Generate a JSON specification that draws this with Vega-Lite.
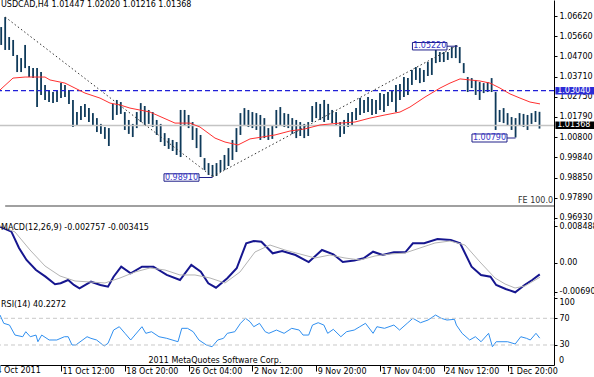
{
"$schema":"https://vega.github.io/schema/vega-lite/v6.json",
"width":554,"height":365,
"autosize":{"type":"none"},
"padding":{"left":0,"top":0,"right":40,"bottom":12},
"background":"white",
"config":{"view":{"stroke":null},"font":"DejaVu Sans",
 "axis":{"labelFont":"DejaVu Sans","labelFontSize":8,"labelColor":"#000","domainColor":"#000","tickColor":"#000","grid":false,"labelOverlap":false,"labelBound":false,"tickSize":3,"labelPadding":2,"domainWidth":1,"tickWidth":1},
 "text":{"font":"DejaVu Sans","fontSize":8}},
"datasets":{
"bars":[{"t":1,"h":1.0609,"l":1.0523},{"t":2,"h":1.0657,"l":1.0499},{"t":3,"h":1.0561,"l":1.0499},{"t":4,"h":1.0547,"l":1.047},{"t":5,"h":1.0475,"l":1.0393},{"t":6,"h":1.046,"l":1.0393},{"t":7,"h":1.0523,"l":1.0412},{"t":8,"h":1.0422,"l":1.0369},{"t":9,"h":1.0412,"l":1.0364},{"t":10,"h":1.0412,"l":1.0225},{"t":11,"h":1.0393,"l":1.0283},{"t":12,"h":1.0331,"l":1.0259},{"t":13,"h":1.0307,"l":1.0249},{"t":14,"h":1.0297,"l":1.0244},{"t":15,"h":1.0307,"l":1.0249},{"t":16,"h":1.034,"l":1.0268},{"t":17,"h":1.0331,"l":1.0273},{"t":18,"h":1.0307,"l":1.024},{"t":19,"h":1.0259,"l":1.0129},{"t":20,"h":1.0201,"l":1.0139},{"t":21,"h":1.023,"l":1.0163},{"t":22,"h":1.024,"l":1.0177},{"t":23,"h":1.022,"l":1.0153},{"t":24,"h":1.0196,"l":1.0134},{"t":25,"h":1.0172,"l":1.0105},{"t":26,"h":1.0144,"l":1.0096},{"t":27,"h":1.0129,"l":1.0072},{"t":28,"h":1.0124,"l":1.0038},{"t":29,"h":1.024,"l":1.0163},{"t":30,"h":1.0259,"l":1.0187},{"t":31,"h":1.0249,"l":1.0192},{"t":32,"h":1.0201,"l":1.0115},{"t":33,"h":1.0163,"l":1.0096},{"t":34,"h":1.0144,"l":1.0081},{"t":35,"h":1.0201,"l":1.0124},{"t":36,"h":1.0244,"l":1.0153},{"t":37,"h":1.023,"l":1.0139},{"t":38,"h":1.0211,"l":1.0144},{"t":39,"h":1.0201,"l":1.0129},{"t":40,"h":1.0163,"l":1.0091},{"t":41,"h":1.0144,"l":1.0057},{"t":42,"h":1.01,"l":1.0038},{"t":43,"h":1.0076,"l":1.0024},{"t":44,"h":1.0067,"l":1.0014},{"t":45,"h":1.0057,"l":0.9995},{"t":46,"h":1.0211,"l":0.9985},{"t":47,"h":1.0211,"l":1.0134},{"t":48,"h":1.0187,"l":1.0124},{"t":49,"h":1.0153,"l":1.0067},{"t":50,"h":1.0124,"l":1.0028},{"t":51,"h":1.0091,"l":0.9985},{"t":52,"h":0.998,"l":0.9923},{"t":53,"h":0.9956,"l":0.9899},{"t":54,"h":0.9947,"l":0.9891},{"t":55,"h":0.9956,"l":0.9894},{"t":56,"h":0.9971,"l":0.9913},{"t":57,"h":0.9995,"l":0.9923},{"t":58,"h":1.0028,"l":0.9942},{"t":59,"h":1.0067,"l":0.9971},{"t":60,"h":1.0124,"l":1.0009},{"t":61,"h":1.0196,"l":1.0091},{"t":62,"h":1.022,"l":1.0139},{"t":63,"h":1.0211,"l":1.0129},{"t":64,"h":1.0201,"l":1.0124},{"t":65,"h":1.0196,"l":1.0115},{"t":66,"h":1.0187,"l":1.0067},{"t":67,"h":1.0172,"l":1.0076},{"t":68,"h":1.0124,"l":1.0067},{"t":69,"h":1.0134,"l":1.0072},{"t":70,"h":1.0211,"l":1.0124},{"t":71,"h":1.0225,"l":1.0139},{"t":72,"h":1.0196,"l":1.0129},{"t":73,"h":1.0192,"l":1.0124},{"t":74,"h":1.0172,"l":1.0096},{"t":75,"h":1.0163,"l":1.0076},{"t":76,"h":1.0153,"l":1.0086},{"t":77,"h":1.0144,"l":1.0076},{"t":78,"h":1.0153,"l":1.0086},{"t":79,"h":1.023,"l":1.0153},{"t":80,"h":1.0249,"l":1.0172},{"t":81,"h":1.024,"l":1.0163},{"t":82,"h":1.0259,"l":1.0153},{"t":83,"h":1.024,"l":1.0163},{"t":84,"h":1.0211,"l":1.0148},{"t":85,"h":1.0201,"l":1.0134},{"t":86,"h":1.0153,"l":1.0081},{"t":87,"h":1.0163,"l":1.0096},{"t":88,"h":1.0196,"l":1.0129},{"t":89,"h":1.0201,"l":1.0134},{"t":90,"h":1.022,"l":1.0163},{"t":91,"h":1.0268,"l":1.0187},{"t":92,"h":1.0259,"l":1.0196},{"t":93,"h":1.0273,"l":1.0201},{"t":94,"h":1.0264,"l":1.0187},{"t":95,"h":1.0259,"l":1.0192},{"t":96,"h":1.0292,"l":1.0211},{"t":97,"h":1.0288,"l":1.0201},{"t":98,"h":1.0297,"l":1.023},{"t":99,"h":1.0307,"l":1.0249},{"t":100,"h":1.0331,"l":1.0201},{"t":101,"h":1.0336,"l":1.0259},{"t":102,"h":1.0369,"l":1.0273},{"t":103,"h":1.0364,"l":1.0283},{"t":104,"h":1.0403,"l":1.0331},{"t":105,"h":1.0417,"l":1.0355},{"t":106,"h":1.0412,"l":1.034},{"t":107,"h":1.0403,"l":1.0345},{"t":108,"h":1.0441,"l":1.0374},{"t":109,"h":1.046,"l":1.0379},{"t":110,"h":1.0499,"l":1.0436},{"t":111,"h":1.0489,"l":1.0441},{"t":112,"h":1.0489,"l":1.0441},{"t":113,"h":1.0489,"l":1.0451},{"t":114,"h":1.0513,"l":1.046},{"t":115,"h":1.0522,"l":1.046},{"t":116,"h":1.0513,"l":1.0436},{"t":117,"h":1.0436,"l":1.0388},{"t":118,"h":1.0369,"l":1.0297},{"t":119,"h":1.0364,"l":1.0316},{"t":120,"h":1.0355,"l":1.0283},{"t":121,"h":1.0345,"l":1.0259},{"t":122,"h":1.034,"l":1.0292},{"t":123,"h":1.0345,"l":1.0297},{"t":124,"h":1.0364,"l":1.0297},{"t":125,"h":1.0297,"l":1.0115},{"t":126,"h":1.0211,"l":1.0153},{"t":127,"h":1.022,"l":1.0148},{"t":128,"h":1.0196,"l":1.0134},{"t":129,"h":1.0177,"l":1.0115},{"t":130,"h":1.0172,"l":1.0079},{"t":131,"h":1.0196,"l":1.0139},{"t":132,"h":1.0192,"l":1.0129},{"t":133,"h":1.0187,"l":1.0115},{"t":134,"h":1.0196,"l":1.0144},{"t":135,"h":1.0206,"l":1.0153},{"t":136,"h":1.0202,"l":1.01216}],
"ma":[{"t":0.702,"p":1.0307},{"t":3.96,"p":1.0364},{"t":7,"p":1.0369},{"t":11.99,"p":1.0369},{"t":13.24,"p":1.0355},{"t":17.0,"p":1.034},{"t":19.51,"p":1.0316},{"t":22.02,"p":1.0292},{"t":25.78,"p":1.0268},{"t":28.29,"p":1.0244},{"t":30.8,"p":1.0235},{"t":33.3,"p":1.022},{"t":38.32,"p":1.0201},{"t":44.59,"p":1.0148},{"t":48.35,"p":1.0148},{"t":50.86,"p":1.0129},{"t":54.62,"p":1.0076},{"t":57.13,"p":1.0057},{"t":60.39,"p":1.0043},{"t":63.4,"p":1.0072},{"t":66.41,"p":1.0081},{"t":69.67,"p":1.0091},{"t":73.43,"p":1.011},{"t":77.19,"p":1.012},{"t":80.95,"p":1.0139},{"t":85.97,"p":1.0148},{"t":89.73,"p":1.0153},{"t":93.49,"p":1.0172},{"t":97.25,"p":1.0187},{"t":101.02,"p":1.0201},{"t":103.52,"p":1.0225},{"t":107.29,"p":1.0273},{"t":111.05,"p":1.0316},{"t":113.56,"p":1.034},{"t":116.07,"p":1.036},{"t":118.57,"p":1.0355},{"t":121.08,"p":1.035},{"t":123.59,"p":1.034},{"t":126.09,"p":1.0316},{"t":128.6,"p":1.0288},{"t":131.11,"p":1.0268},{"t":133.62,"p":1.0249},{"t":136.13,"p":1.024}],
"trend":[{"g":"down","t":2,"p":1.0657},{"g":"down","t":54,"p":0.9891},{"g":"up","t":54,"p":0.9891},{"g":"up","t":115.5,"p":1.0522}],
"levels":[{"kind":"line","p":1.0304,"lo":1.02852,"hi":1.03212,"label":"1.03040"},{"kind":"bid","p":1.01368,"lo":1.01196,"hi":1.01556,"label":"1.01368"}],
"fe":[{"t0":2,"t1":139.64,"p":0.975,"tl":139.4,"pl":0.9774,"label":"FE 100.0"}],
"boxes":[{"label":"1.05220","t0":104.14,"t1":112.8,"te":115.5,"tc":108.47,"p0":1.0499,"p1":1.05348,"pc":1.0517},{"label":"0.98910","t0":41.83,"t1":50.61,"te":54,"tc":46.22,"p0":0.9869,"p1":0.99046,"pc":0.98868},{"label":"1.00790","t0":119.07,"t1":127.85,"te":130,"tc":123.46,"p0":1.00572,"p1":1.00956,"pc":1.00764}],
"macd":[{"t":0.702,"v":0.00844},{"t":3.56,"v":0.00727},{"t":5.47,"v":0.00344},{"t":7.35,"v":0.00062},{"t":9.73,"v":-0.00173},{"t":12.11,"v":-0.0033},{"t":14.5,"v":-0.00509},{"t":15.9,"v":-0.00485},{"t":17.8,"v":-0.00408},{"t":19.23,"v":-0.00525},{"t":20.64,"v":-0.00603},{"t":23.52,"v":-0.00448},{"t":25.88,"v":-0.00525},{"t":27.79,"v":-0.00565},{"t":29.19,"v":-0.0033},{"t":31.1,"v":-0.00095},{"t":33.48,"v":-0.0025},{"t":36.31,"v":-0.00095},{"t":39.17,"v":-0.00095},{"t":42.51,"v":-0.0029},{"t":45.84,"v":-0.00408},{"t":48.68,"v":-0.00055},{"t":51.06,"v":-0.00213},{"t":52.94,"v":-0.00485},{"t":54.87,"v":-0.00589},{"t":57.71,"v":-0.00368},{"t":60.06,"v":-0.00133},{"t":62.45,"v":0.00454},{"t":64.35,"v":0.00508},{"t":66.26,"v":0.00492},{"t":69.09,"v":0.00219},{"t":71.47,"v":0.00273},{"t":74.81,"v":0.00179},{"t":78.12,"v":0.00014},{"t":81.46,"v":0.00297},{"t":84.29,"v":0.00196},{"t":86.67,"v":0.00014},{"t":89.53,"v":0.00052},{"t":91.89,"v":0.00102},{"t":94.27,"v":0.00257},{"t":96.65,"v":0.00179},{"t":99.48,"v":0.00243},{"t":102.34,"v":0.00243},{"t":104.25,"v":0.00454},{"t":107.08,"v":0.00454},{"t":110.42,"v":0.00555},{"t":113.76,"v":0.00532},{"t":116.11,"v":0.00454},{"t":118.97,"v":-0.00095},{"t":121.33,"v":-0.0029},{"t":123.71,"v":-0.0033},{"t":125.14,"v":-0.00525},{"t":127.52,"v":-0.00619},{"t":129.91,"v":-0.00697},{"t":132.26,"v":-0.00525},{"t":134.17,"v":-0.00408},{"t":136.07,"v":-0.00276}],
"signal":[{"t":0.702,"v":0.0086},{"t":4.46,"v":0.0072},{"t":8.23,"v":0.00297},{"t":11.99,"v":-0.00079},{"t":15.75,"v":-0.00314},{"t":19.51,"v":-0.00431},{"t":23.27,"v":-0.00455},{"t":27.03,"v":-0.00478},{"t":30.8,"v":-0.00361},{"t":34.56,"v":-0.0022},{"t":38.32,"v":-0.00126},{"t":42.08,"v":-0.00173},{"t":45.84,"v":-0.0029},{"t":49.6,"v":-0.0029},{"t":53.37,"v":-0.00361},{"t":57.13,"v":-0.00478},{"t":60.89,"v":-0.0022},{"t":64.65,"v":0.0025},{"t":68.41,"v":0.00414},{"t":72.17,"v":0.00297},{"t":75.94,"v":0.00202},{"t":79.7,"v":0.00109},{"t":83.46,"v":0.00179},{"t":87.22,"v":0.00109},{"t":90.98,"v":0.00062},{"t":94.75,"v":0.00156},{"t":98.51,"v":0.00202},{"t":102.27,"v":0.00226},{"t":106.03,"v":0.00344},{"t":109.79,"v":0.00461},{"t":113.56,"v":0.00508},{"t":117.32,"v":0.00414},{"t":121.08,"v":0.00015},{"t":124.84,"v":-0.00361},{"t":127.36,"v":-0.00502},{"t":129.87,"v":-0.00596},{"t":132.37,"v":-0.00548},{"t":136.13,"v":-0.00342}],
"rsi":[{"t":0.702,"v":74.9},{"t":1.65,"v":62.5},{"t":3.08,"v":59.9},{"t":4.46,"v":44.9},{"t":6.4,"v":42.4},{"t":7.17,"v":49.9},{"t":8.3,"v":42.4},{"t":9.73,"v":44.9},{"t":10.21,"v":34.9},{"t":11.16,"v":44.9},{"t":13.04,"v":37.5},{"t":14.95,"v":37.5},{"t":16.85,"v":42.4},{"t":17.81,"v":42.4},{"t":18.76,"v":30.0},{"t":19.71,"v":30.0},{"t":22.54,"v":42.4},{"t":23.5,"v":40.0},{"t":24.93,"v":37.5},{"t":26.83,"v":28.5},{"t":27.79,"v":32.5},{"t":29.19,"v":52.4},{"t":30.62,"v":57.4},{"t":32.05,"v":47.5},{"t":33.48,"v":37.5},{"t":36.31,"v":57.4},{"t":37.27,"v":47.5},{"t":38.7,"v":49.9},{"t":40.58,"v":42.4},{"t":42.51,"v":40.0},{"t":45.34,"v":34.9},{"t":46.29,"v":55.0},{"t":47.72,"v":55.0},{"t":49.15,"v":49.9},{"t":50.58,"v":37.5},{"t":52.46,"v":30.0},{"t":53.89,"v":27.4},{"t":55.32,"v":37.5},{"t":56.75,"v":40.0},{"t":57.71,"v":47.5},{"t":59.59,"v":49.9},{"t":61.02,"v":62.5},{"t":62.27,"v":70.0},{"t":63.4,"v":64.9},{"t":64.35,"v":57.4},{"t":65.78,"v":62.5},{"t":67.21,"v":49.9},{"t":68.14,"v":47.5},{"t":70.04,"v":52.4},{"t":71.95,"v":47.5},{"t":73.86,"v":55.0},{"t":75.74,"v":52.4},{"t":76.69,"v":44.9},{"t":78.12,"v":44.9},{"t":79.07,"v":59.9},{"t":80.5,"v":63.4},{"t":81.93,"v":59.9},{"t":82.88,"v":47.5},{"t":84.29,"v":53.5},{"t":86.19,"v":42.4},{"t":87.62,"v":49.9},{"t":89.53,"v":52.4},{"t":90.94,"v":57.4},{"t":92.36,"v":62.5},{"t":94.27,"v":47.5},{"t":95.22,"v":57.4},{"t":97.13,"v":55.0},{"t":99.48,"v":59.9},{"t":100.91,"v":52.4},{"t":102.82,"v":62.5},{"t":104.25,"v":70.0},{"t":106.16,"v":63.4},{"t":108.04,"v":67.4},{"t":109.94,"v":74.9},{"t":111.37,"v":70.0},{"t":112.8,"v":67.4},{"t":114.68,"v":68.5},{"t":115.16,"v":59.9},{"t":116.59,"v":47.5},{"t":118.49,"v":37.5},{"t":119.92,"v":42.4},{"t":121.35,"v":34.9},{"t":123.24,"v":47.5},{"t":124.19,"v":27.4},{"t":125.14,"v":34.9},{"t":128.0,"v":34.9},{"t":129.91,"v":31.5},{"t":131.31,"v":42.4},{"t":132.74,"v":40.0},{"t":133.69,"v":37.5},{"t":135.12,"v":47.5},{"t":136.07,"v":40.2272}],
"rsilevels":[{"v":70},{"v":30}],
"texts":[{"panel":"main","t":0.95,"v":1.0715,"label":"USDCAD,H4  1.01447 1.02020 1.01216 1.01368"},{"panel":"macd","t":0.95,"v":0.00807,"label":"MACD(12,26,9) -0.002757 -0.003415"},{"panel":"rsi","t":0.95,"v":89.9,"label":"RSI(14) 40.2272"}],
"copyright":[{"t":54.62,"v":6.0,"label":"2011 MetaQuotes Software Corp."}],
"edgelabels":[{"t":-0.2,"v":-9.0,"label":"4 Oct 2011"},{"t":140.9,"v":6.0,"label":"0"}]
},
"layer":[
{"layer":[
 {"data":{"name":"bars"},"mark":{"type":"rule","color":"#0f3a5a","strokeWidth":1.8},
  "encoding":{"x":{"field":"t","type":"quantitative","scale":{"domain":[0.702,139.64],"nice":false,"zero":false}},
   "y":{"field":"h","type":"quantitative","scale":{"domain":[0.96828,1.07388],"range":[220,0],"nice":false,"zero":false},
     "axis":{"orient":"right","values":[1.0662,1.0566,1.047,1.0371,1.0275,1.0179,1.008,0.9984,0.9885,0.9789,0.9693],"tickCount":30,"format":".5f","title":null,"labelFlush":false,"labelOverlap":false,"labelBound":false}},
   "y2":{"field":"l"}}},
 {"data":{"name":"levels"},"transform":[{"filter":"datum.kind == 'bid'"}],"mark":{"type":"rule","color":"#c4c4c4","strokeWidth":1.5},
  "encoding":{"y":{"field":"p","type":"quantitative","scale":{"domain":[0.96828,1.07388],"range":[220,0],"nice":false,"zero":false}}}},
 {"data":{"name":"levels"},"transform":[{"filter":"datum.kind == 'line'"}],"mark":{"type":"rule","color":"#2020d8","strokeWidth":1.3,"strokeDash":[5,3]},
  "encoding":{"y":{"field":"p","type":"quantitative","scale":{"domain":[0.96828,1.07388],"range":[220,0],"nice":false,"zero":false}}}},
 {"data":{"name":"ma"},"mark":{"type":"line","color":"#ff3030","strokeWidth":1},
  "encoding":{"x":{"field":"t","type":"quantitative","scale":{"domain":[0.702,139.64],"nice":false,"zero":false}},
   "y":{"field":"p","type":"quantitative","scale":{"domain":[0.96828,1.07388],"range":[220,0],"nice":false,"zero":false}}}},
 {"data":{"name":"trend"},"mark":{"type":"line","color":"#333333","strokeWidth":1,"strokeDash":[1.5,2.5]},
  "encoding":{"x":{"field":"t","type":"quantitative","scale":{"domain":[0.702,139.64],"nice":false,"zero":false}},
   "y":{"field":"p","type":"quantitative","scale":{"domain":[0.96828,1.07388],"range":[220,0],"nice":false,"zero":false}},
   "detail":{"field":"g"}}},
 {"data":{"name":"fe"},"mark":{"type":"rule","color":"#a0a0a0","strokeWidth":2},
  "encoding":{"x":{"field":"t0","type":"quantitative","scale":{"domain":[0.702,139.64],"nice":false,"zero":false}},"x2":{"field":"t1"},
   "y":{"field":"p","type":"quantitative","scale":{"domain":[0.96828,1.07388],"range":[220,0],"nice":false,"zero":false}}}},
 {"data":{"name":"fe"},"mark":{"type":"text","align":"right","baseline":"middle","color":"#333333"},
  "encoding":{"x":{"field":"tl","type":"quantitative","scale":{"domain":[0.702,139.64],"nice":false,"zero":false}},
   "y":{"field":"pl","type":"quantitative","scale":{"domain":[0.96828,1.07388],"range":[220,0],"nice":false,"zero":false}},"text":{"field":"label"}}},
 {"data":{"name":"boxes"},"mark":{"type":"rule","color":"#20208a","strokeWidth":1},
  "encoding":{"x":{"field":"t1","type":"quantitative","scale":{"domain":[0.702,139.64],"nice":false,"zero":false}},"x2":{"field":"te"},
   "y":{"field":"pc","type":"quantitative","scale":{"domain":[0.96828,1.07388],"range":[220,0],"nice":false,"zero":false}}}},
 {"data":{"name":"boxes"},"mark":{"type":"rect","fill":"white","stroke":"#20208a","strokeWidth":1},
  "encoding":{"x":{"field":"t0","type":"quantitative","scale":{"domain":[0.702,139.64],"nice":false,"zero":false}},"x2":{"field":"t1"},
   "y":{"field":"p0","type":"quantitative","scale":{"domain":[0.96828,1.07388],"range":[220,0],"nice":false,"zero":false}},"y2":{"field":"p1"}}},
 {"data":{"name":"boxes"},"mark":{"type":"text","align":"center","baseline":"middle","color":"#3838c8"},
  "encoding":{"x":{"field":"tc","type":"quantitative","scale":{"domain":[0.702,139.64],"nice":false,"zero":false}},
   "y":{"field":"pc","type":"quantitative","scale":{"domain":[0.96828,1.07388],"range":[220,0],"nice":false,"zero":false}},"text":{"field":"label"}}},
 {"data":{"name":"levels"},"mark":{"type":"rect"},
  "encoding":{"x":{"datum":140,"type":"quantitative","scale":{"domain":[0.702,139.64],"nice":false,"zero":false}},"x2":{"datum":150},
   "y":{"field":"lo","type":"quantitative","scale":{"domain":[0.96828,1.07388],"range":[220,0],"nice":false,"zero":false}},"y2":{"field":"hi"},
   "color":{"field":"kind","type":"nominal","scale":{"domain":["line","bid"],"range":["#2b2bd6","#000000"]},"legend":null}}},
 {"data":{"name":"levels"},"mark":{"type":"text","align":"left","baseline":"middle","color":"white"},
  "encoding":{"x":{"datum":140.45,"type":"quantitative","scale":{"domain":[0.702,139.64],"nice":false,"zero":false}},
   "y":{"field":"p","type":"quantitative","scale":{"domain":[0.96828,1.07388],"range":[220,0],"nice":false,"zero":false}},"text":{"field":"label"}}},
 {"data":{"name":"texts"},"transform":[{"filter":"datum.panel == 'main'"}],"mark":{"type":"text","align":"left","baseline":"middle","color":"#000"},
  "encoding":{"x":{"field":"t","type":"quantitative","scale":{"domain":[0.702,139.64],"nice":false,"zero":false}},
   "y":{"field":"v","type":"quantitative","scale":{"domain":[0.96828,1.07388],"range":[220,0],"nice":false,"zero":false}},"text":{"field":"label"}}}
]},
{"layer":[
 {"data":{"name":"macd"},"mark":{"type":"line","color":"#16168f","strokeWidth":2},
  "encoding":{"x":{"field":"t","type":"quantitative","scale":{"domain":[0.702,139.64],"nice":false,"zero":false}},
   "y":{"field":"v","type":"quantitative","scale":{"domain":[-0.00784,0.010015],"range":[296,220],"nice":false,"zero":false},
    "axis":{"orient":"right","values":[0.008488,0,-0.0069],"tickCount":10,"labelExpr":"datum.value > 0.001 ? '0.008488' : (datum.value < -0.001 ? '-0.00690' : '0.00')","title":null,"labelFlush":3,"labelOverlap":false,"labelBound":false}}}},
 {"data":{"name":"signal"},"mark":{"type":"line","color":"#b4b4b4","strokeWidth":1},
  "encoding":{"x":{"field":"t","type":"quantitative","scale":{"domain":[0.702,139.64],"nice":false,"zero":false}},
   "y":{"field":"v","type":"quantitative","scale":{"domain":[-0.00784,0.010015],"range":[296,220],"nice":false,"zero":false}}}},
 {"mark":{"type":"rule","color":"#d0d0d0","strokeWidth":1,"strokeDash":[2,2]},
  "encoding":{"y":{"datum":0,"type":"quantitative","scale":{"domain":[-0.00784,0.010015],"range":[296,220],"nice":false,"zero":false}}}},
 {"mark":{"type":"rule","color":"#000","strokeWidth":1},
  "encoding":{"y":{"datum":0.010015,"type":"quantitative","scale":{"domain":[-0.00784,0.010015],"range":[296,220],"nice":false,"zero":false}}}},
 {"data":{"name":"texts"},"transform":[{"filter":"datum.panel == 'macd'"}],"mark":{"type":"text","align":"left","baseline":"middle","color":"#000"},
  "encoding":{"x":{"field":"t","type":"quantitative","scale":{"domain":[0.702,139.64],"nice":false,"zero":false}},
   "y":{"field":"v","type":"quantitative","scale":{"domain":[-0.00784,0.010015],"range":[296,220],"nice":false,"zero":false}},"text":{"field":"label"}}}
]},
{"layer":[
 {"data":{"name":"rsi"},"mark":{"type":"line","color":"#2f8ff0","strokeWidth":1},
  "encoding":{"x":{"field":"t","type":"quantitative","scale":{"domain":[0.702,139.64],"nice":false,"zero":false},
    "axis":{"orient":"bottom","values":[0,16,32,48,64,80,96,112,128],"tickCount":20,"labelExpr":"['4 Oct 2011','11 Oct 12:00','18 Oct 20:00','26 Oct 04:00','2 Nov 12:00','9 Nov 20:00','17 Nov 04:00','24 Nov 12:00','1 Dec 20:00'][round(datum.value/16)]","title":null,"tickSize":6,"labelAlign":"left","labelBaseline":"middle","labelPadding":0,"labelOffset":1,"labelFlush":false,"labelOverlap":false,"labelBound":false}},
   "y":{"field":"v","type":"quantitative","scale":{"domain":[0,103.45],"range":[365,296],"nice":false,"zero":false},
    "axis":{"orient":"right","values":[100,70,30],"tickCount":10,"format":"d","title":null,"labelFlush":3,"labelOverlap":false,"labelBound":false}}}},
 {"data":{"name":"rsilevels"},"mark":{"type":"rule","color":"#c8c8c8","strokeWidth":1,"strokeDash":[4,3]},
  "encoding":{"y":{"field":"v","type":"quantitative","scale":{"domain":[0,103.45],"range":[365,296],"nice":false,"zero":false}}}},
 {"mark":{"type":"rule","color":"#000","strokeWidth":1},
  "encoding":{"y":{"datum":103.45,"type":"quantitative","scale":{"domain":[0,103.45],"range":[365,296],"nice":false,"zero":false}}}},
 {"data":{"name":"texts"},"transform":[{"filter":"datum.panel == 'rsi'"}],"mark":{"type":"text","align":"left","baseline":"middle","color":"#000"},
  "encoding":{"x":{"field":"t","type":"quantitative","scale":{"domain":[0.702,139.64],"nice":false,"zero":false}},
   "y":{"field":"v","type":"quantitative","scale":{"domain":[0,103.45],"range":[365,296],"nice":false,"zero":false}},"text":{"field":"label"}}},
 {"data":{"name":"copyright"},"mark":{"type":"text","align":"center","baseline":"middle","color":"#000"},
  "encoding":{"x":{"field":"t","type":"quantitative","scale":{"domain":[0.702,139.64],"nice":false,"zero":false}},
   "y":{"field":"v","type":"quantitative","scale":{"domain":[0,103.45],"range":[365,296],"nice":false,"zero":false}},"text":{"field":"label"}}},
 {"data":{"name":"edgelabels"},"mark":{"type":"text","align":"left","baseline":"middle","color":"#000"},
  "encoding":{"x":{"field":"t","type":"quantitative","scale":{"domain":[0.702,139.64],"nice":false,"zero":false}},
   "y":{"field":"v","type":"quantitative","scale":{"domain":[0,103.45],"range":[365,296],"nice":false,"zero":false}},"text":{"field":"label"}}}
]}
],
"resolve":{"scale":{"y":"independent"},"axis":{"y":"independent"}}
}
